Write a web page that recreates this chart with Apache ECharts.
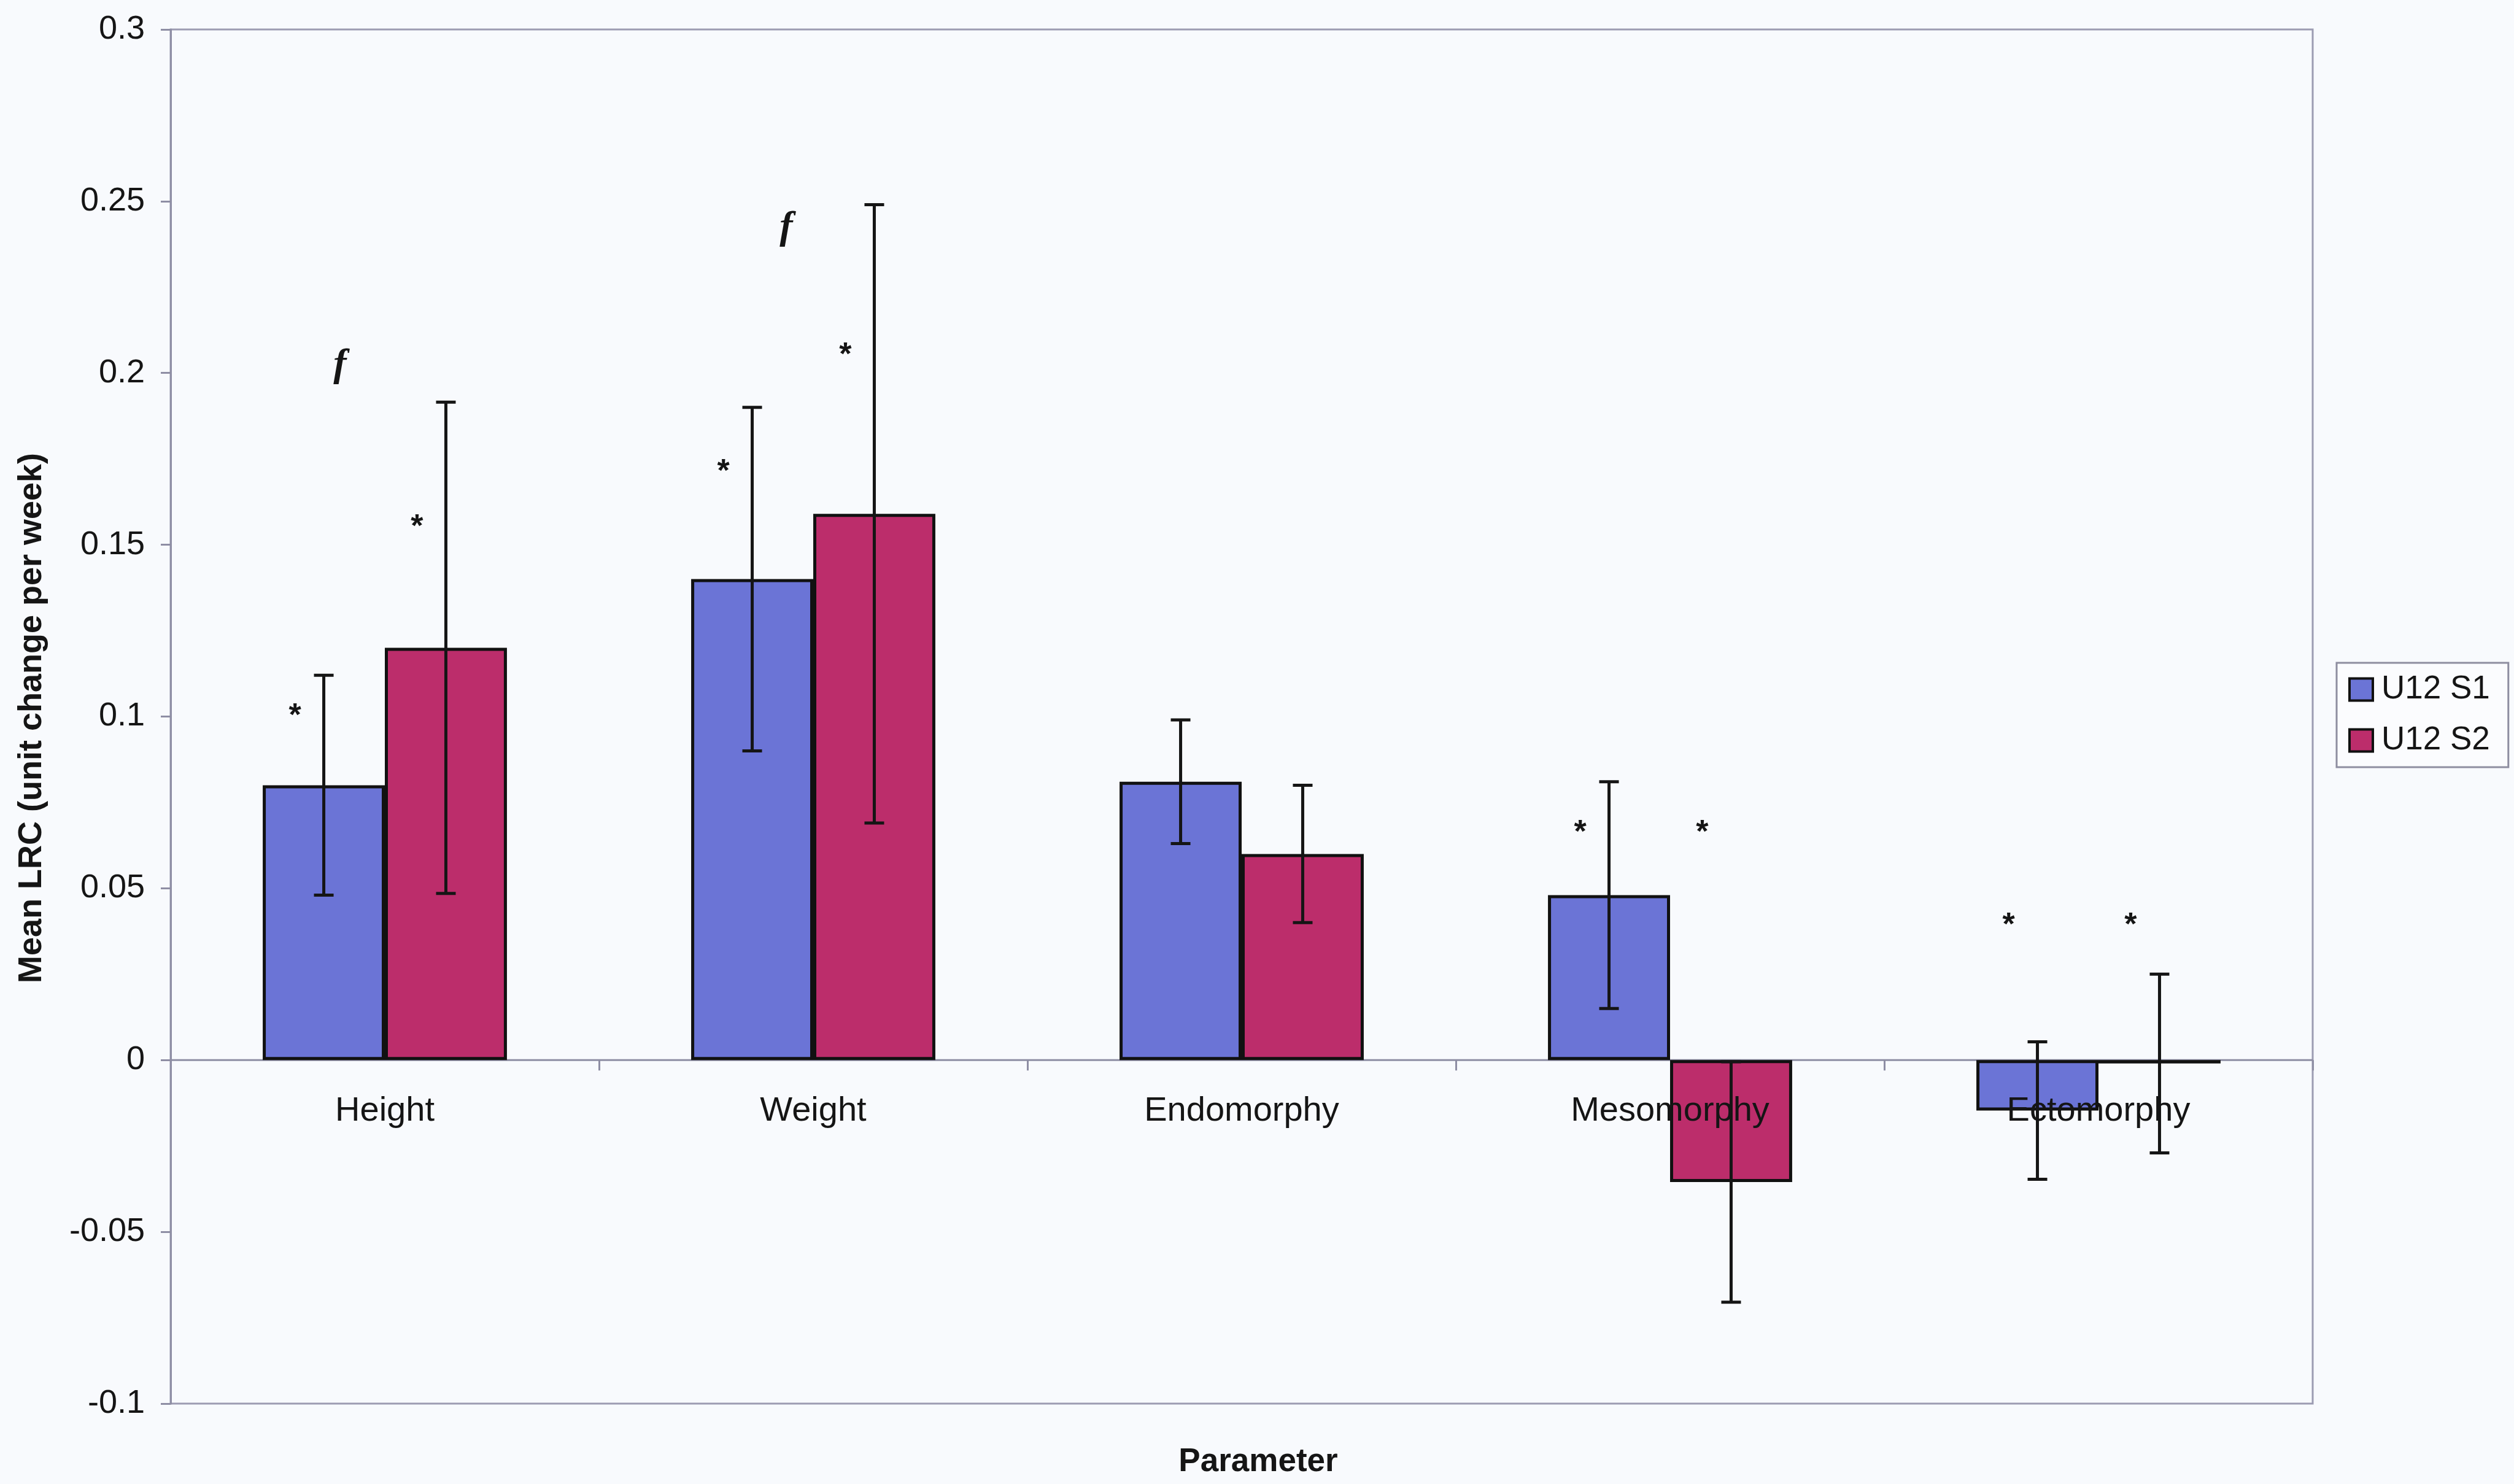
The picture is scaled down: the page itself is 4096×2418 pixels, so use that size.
<!DOCTYPE html>
<html>
<head>
<meta charset="utf-8">
<script src="https://cdn.jsdelivr.net/npm/echarts@6/dist/echarts.min.js"></script>
<style>
html,body{margin:0;padding:0;background:#f8fafd;}
#c{width:4096px;height:2418px;}
</style>
</head>
<body>
<div id="c"></div>
<script>
// ---------------- data ----------------
const categories = ['Height', 'Weight', 'Endomorphy', 'Mesomorphy', 'Ectomorphy'];
const seriesNames = ['U12 S1', 'U12 S2'];
const s1Values = [0.080, 0.140, 0.081, 0.048, -0.0147];
const s2Values = [0.120, 0.159, 0.060, -0.0355, -0.001];
const s1Errors = [0.032, 0.050, 0.018, 0.033, 0.020];
const s2Errors = [0.0715, 0.090, 0.020, 0.035, 0.026];
// significance markers (value-axis heights), null = none
const s1StarY = [0.102, 0.173, null, 0.068, 0.041];
const s2StarY = [0.157, 0.207, null, 0.068, 0.041];
const fMarkY = [0.201, 0.241, null, null, null];
const yTickLabels = ['-0.1', '-0.05', '0', '0.05', '0.1', '0.15', '0.2', '0.25', '0.3'];
const yMin = -0.1, yMax = 0.3, yInterval = 0.05;

// ---------------- style / layout ----------------
const FONT = '"Liberation Sans", Arial, sans-serif';
const SERIF = '"Liberation Serif", "Times New Roman", serif';
const BLUE = '#6b74d6';
const RED = '#bc2d6b';
const EDGE = '#111111';
const AXIS = '#8e8ea4';
const CAT_GAP = 0.43;
const STAR_DX = -47;         // px left of bar centre
const F_DX = [-73, -44, 0, 0, 0]; // px from category centre
const CAT_LABEL_MARGIN = 55;

function barCenter(api, idx, side) {
  const cw = api.size([1, 0])[0];
  const bw = cw * (1 - CAT_GAP) / 2;
  return api.coord([idx, 0])[0] + side * bw / 2;
}

function errorSeries(values, errors, side) {
  return {
    type: 'custom', silent: true, z: 4,
    encode: { x: 0, y: [1, 2] },
    data: values.map((v, i) => [i, v - errors[i], v + errors[i]]),
    renderItem: function (params, api) {
      const i = api.value(0);
      const cx = barCenter(api, i, side);
      const yLo = api.coord([i, api.value(1)])[1];
      const yHi = api.coord([i, api.value(2)])[1];
      const cap = 16;
      const ls = { stroke: '#151515', lineWidth: 5 };
      return {
        type: 'group',
        children: [
          { type: 'line', shape: { x1: cx, y1: yLo, x2: cx, y2: yHi }, style: ls },
          { type: 'line', shape: { x1: cx - cap, y1: yHi, x2: cx + cap, y2: yHi }, style: ls },
          { type: 'line', shape: { x1: cx - cap, y1: yLo, x2: cx + cap, y2: yLo }, style: ls }
        ]
      };
    }
  };
}

function starSeries(ys, side) {
  const d = [];
  ys.forEach((y, i) => { if (y !== null) d.push([i, y]); });
  return {
    type: 'custom', silent: true, z: 5,
    encode: { x: 0, y: 1 },
    data: d,
    renderItem: function (params, api) {
      const i = api.value(0);
      const cx = barCenter(api, i, side) + STAR_DX;
      const cy = api.coord([i, api.value(1)])[1];
      return {
        type: 'text', x: cx, y: cy + 11,
        style: { text: '*', fontSize: 52, fontWeight: 'bold', fontFamily: FONT, fill: '#151515',
                 align: 'center', verticalAlign: 'middle', textAlign: 'center', textVerticalAlign: 'middle' }
      };
    }
  };
}

const fData = [];
fMarkY.forEach((y, i) => { if (y !== null) fData.push([i, y]); });

const option = {
  backgroundColor: '#f8fafd',
  animation: false,
  grid: {
    left: 278, right: 328, top: 48, bottom: 131,
    show: true, borderColor: '#9c9cb2', borderWidth: 3, backgroundColor: 'transparent',
    containLabel: false, outerBoundsMode: 'none'
  },
  legend: {
    data: seriesNames,
    orient: 'vertical',
    left: 3807, top: 1080,
    padding: [17, 30, 17, 19],
    itemGap: 30,
    itemWidth: 38, itemHeight: 36,
    icon: 'rect',
    backgroundColor: '#fbfcfe',
    borderColor: '#8e8ea0', borderWidth: 3,
    textStyle: { fontSize: 53, fontFamily: FONT, color: '#151515', padding: [0, 0, 0, 9] },
    itemStyle: { borderColor: EDGE, borderWidth: 4 }
  },
  xAxis: {
    type: 'category', data: categories, z: 10, boundaryGap: true,
    axisLine: { show: true, onZero: true, lineStyle: { color: AXIS, width: 3, opacity: 0 } },
    axisTick: { show: true, length: 17, lineStyle: { color: AXIS, width: 3 } },
    axisLabel: { show: false },
    splitLine: { show: false }
  },
  yAxis: {
    type: 'value', min: yMin, max: yMax, interval: yInterval,
    axisLine: { show: true, lineStyle: { color: AXIS, width: 3 } },
    axisTick: { show: true, length: 16, lineStyle: { color: AXIS, width: 3 } },
    axisLabel: {
      margin: 42, fontSize: 54, fontFamily: FONT, color: '#151515',
      formatter: function (v) { return yTickLabels[Math.round((v - yMin) / yInterval)]; }
    },
    splitLine: { show: false }
  },
  series: [
    {
      name: seriesNames[0], type: 'bar', data: s1Values, z: 2,
      barGap: '0%', barCategoryGap: (CAT_GAP * 100) + '%',
      itemStyle: { color: BLUE, borderColor: EDGE, borderWidth: 5 }
    },
    {
      name: seriesNames[1], type: 'bar', data: s2Values, z: 2,
      barGap: '0%', barCategoryGap: (CAT_GAP * 100) + '%',
      itemStyle: { color: RED, borderColor: EDGE, borderWidth: 5 }
    },
    {
      // zero line drawn beneath the bars
      type: 'custom', silent: true, z: 1,
      encode: { x: 0, y: 1 },
      data: [[0, 0]],
      renderItem: function (params, api) {
        const cs = params.coordSys;
        const y = api.coord([0, 0])[1];
        return { type: 'line', shape: { x1: cs.x, y1: y, x2: cs.x + cs.width, y2: y },
                 style: { stroke: AXIS, lineWidth: 3 } };
      }
    },
    errorSeries(s1Values, s1Errors, -1),
    errorSeries(s2Values, s2Errors, 1),
    starSeries(s1StarY, -1),
    starSeries(s2StarY, 1),
    {
      type: 'custom', silent: true, z: 5,
      encode: { x: 0, y: 1 },
      data: fData,
      renderItem: function (params, api) {
        const i = api.value(0);
        const cx = api.coord([i, 0])[0] + F_DX[i];
        const cy = api.coord([i, api.value(1)])[1];
        return {
          type: 'text', x: cx, y: cy - 7,
          style: { text: 'f', fontSize: 64, fontWeight: 'bold', fontStyle: 'italic', fontFamily: SERIF, fill: '#151515',
                   align: 'center', verticalAlign: 'middle', textAlign: 'center', textVerticalAlign: 'middle' }
        };
      }
    },
    {
      // category labels, hung just below the zero line (over the bars)
      type: 'custom', silent: true, z: 6,
      encode: { x: 0, y: 1 },
      data: categories.map((c, i) => [i, 0]),
      renderItem: function (params, api) {
        const i = api.value(0);
        const p = api.coord([i, 0]);
        return {
          type: 'text', x: p[0], y: p[1] + CAT_LABEL_MARGIN,
          style: { text: categories[i], fontSize: 56, fontFamily: FONT, fill: '#151515',
                   align: 'center', verticalAlign: 'top', textAlign: 'center', textVerticalAlign: 'top' }
        };
      }
    }
  ],
  graphic: [
    {
      type: 'text', x: 52, y: 1170, rotation: Math.PI / 2,
      style: { text: 'Mean LRC (unit change per week)', fontSize: 54, fontWeight: 'bold', fontFamily: FONT, fill: '#151515',
               align: 'center', verticalAlign: 'middle', textAlign: 'center', textVerticalAlign: 'middle' }
    },
    {
      type: 'text', x: 2050, y: 2382,
      style: { text: 'Parameter', fontSize: 53, fontWeight: 'bold', fontFamily: FONT, fill: '#151515',
               align: 'center', verticalAlign: 'middle', textAlign: 'center', textVerticalAlign: 'middle' }
    }
  ]
};

const chart = echarts.init(document.getElementById('c'), null, { renderer: 'canvas' });
chart.setOption(option);
</script>
</body>
</html>
